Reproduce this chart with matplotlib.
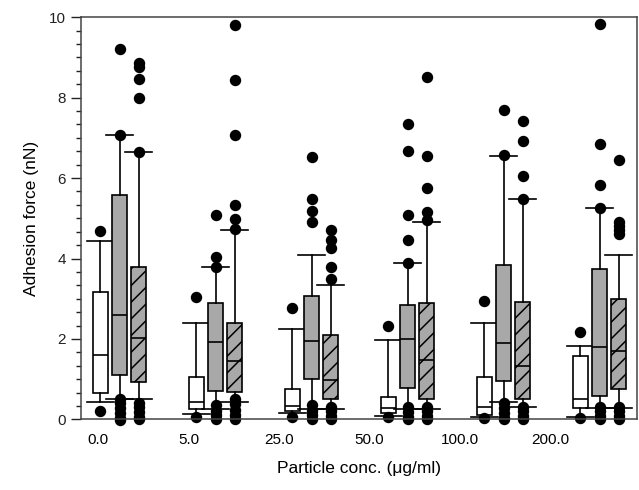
import matplotlib
matplotlib.use("Agg")
import matplotlib.pyplot as plt
from matplotlib.ticker import MultipleLocator

plt.rcParams['font.family'] = ['Liberation Sans', 'DejaVu Sans']
plt.rcParams['hatch.linewidth'] = 1.1

groups = ["0.0", "5.0", "25.0", "50.0", "100.0", "200.0"]

# White boxes
w_whislo = [0.43, 0.14, 0.15, 0.08, 0.06, 0.07]
w_q1 = [0.66, 0.26, 0.22, 0.15, 0.12, 0.29]
w_med = [1.61, 0.44, 0.33, 0.29, 0.31, 0.51]
w_q3 = [3.18, 1.06, 0.76, 0.55, 1.05, 1.57]
w_whishi = [4.44, 2.39, 2.25, 1.98, 2.39, 1.83]
w_fliers = [[4.69, 0.21], [3.05, 0.06], [2.76, 0.05], [2.33, 0.05], [2.95, 0.03], [2.17, 0.04]]

# Grey boxes
g_whislo = [0.51, 0.25, 0.25, 0.25, 0.44, 0.29]
g_q1 = [1.10, 0.70, 1.01, 0.78, 0.95, 0.59]
g_med = [2.60, 1.92, 1.94, 2.00, 1.90, 1.81]
g_q3 = [5.59, 2.90, 3.07, 2.85, 3.85, 3.73]
g_whishi = [7.08, 3.80, 4.08, 3.88, 6.56, 5.25]
g_fliers = [
    [9.20, 7.08, 0.52, 0.40, 0.28, 0.16, 0.04, -0.02],
    [5.07, 4.04, 3.80, 0.35, 0.22, 0.10, 0.0],
    [6.53, 5.47, 5.18, 4.91, 0.35, 0.22, 0.10, 0.0],
    [7.34, 6.67, 5.07, 4.47, 3.89, 0.30, 0.18, 0.06, 0.0],
    [7.70, 6.58, 0.40, 0.28, 0.16, 0.04, 0.0],
    [9.83, 6.85, 5.82, 5.26, 0.32, 0.20, 0.08, 0.0],
]

# Hatched boxes
h_whislo = [0.51, 0.43, 0.26, 0.26, 0.31, 0.29]
h_q1 = [0.92, 0.68, 0.50, 0.50, 0.50, 0.76]
h_med = [2.02, 1.46, 0.99, 1.47, 1.32, 1.69]
h_q3 = [3.78, 2.39, 2.10, 2.90, 2.93, 2.99]
h_whishi = [6.64, 4.72, 3.34, 4.91, 5.47, 4.08]
h_fliers = [
    [8.87, 8.75, 8.46, 7.98, 6.64, 0.42, 0.30, 0.18, 0.06, 0.0],
    [9.80, 8.44, 7.07, 5.32, 4.99, 4.74, 0.52, 0.38, 0.24, 0.12, 0.0],
    [4.70, 4.47, 4.25, 3.80, 3.48, 0.32, 0.20, 0.08, 0.0],
    [8.50, 6.54, 5.75, 5.16, 4.95, 0.32, 0.20, 0.08, 0.0],
    [7.43, 6.91, 6.06, 5.49, 0.32, 0.20, 0.08, 0.0],
    [6.44, 4.91, 4.80, 4.70, 4.60, 0.32, 0.20, 0.08, 0.0],
]

series = [
    (w_whislo, w_q1, w_med, w_q3, w_whishi, w_fliers, "white", None, 0.0),
    (g_whislo, g_q1, g_med, g_q3, g_whishi, g_fliers, "#a8a8a8", None, 0.203),
    (h_whislo, h_q1, h_med, h_q3, h_whishi, h_fliers, "#a8a8a8", "//", 0.401),
]

fig = plt.figure(figsize=(6.39, 4.90), dpi=100)
ax = fig.add_axes([0.127, 0.144, 0.870, 0.821])

for lo, q1, med, q3, hi, fl, color, hatch, off in series:
    stats = []
    for i in range(len(groups)):
        stats.append(dict(whislo=lo[i], q1=q1[i], med=med[i], q3=q3[i],
                          whishi=hi[i], fliers=fl[i]))
    pos = [i + off for i in range(len(groups))]
    res = ax.bxp(stats, positions=pos, widths=0.156, capwidths=0.28,
                 patch_artist=True, manage_ticks=False,
                 boxprops=dict(facecolor=color, edgecolor='black', linewidth=1.2, hatch=hatch),
                 whiskerprops=dict(color='black', linewidth=1.2),
                 capprops=dict(color='black', linewidth=1.2),
                 medianprops=dict(color='black', linewidth=1.2),
                 flierprops=dict(marker='o', markerfacecolor='black', markeredgecolor='black',
                                 markersize=7.2, linestyle='none'))
    for f in res['fliers']:
        f.set_clip_on(False)

label_pos = [i * 0.941 - 0.02 for i in range(len(groups))]
ax.set_xticks(label_pos, groups)
ax.tick_params(axis='x', length=0, labelsize=11, pad=10)
ax.set_xlim(-0.198, 5.594)
ax.set_ylim(0, 10)
ax.yaxis.set_major_locator(MultipleLocator(2))
ax.yaxis.set_minor_locator(MultipleLocator(1/3))
ax.tick_params(axis='y', which='major', length=7, width=1, labelsize=11, pad=4, colors='#222222')
ax.tick_params(axis='y', which='minor', length=3.5, width=1, colors='#222222')
for s in ax.spines.values():
    s.set_linewidth(1.1)
    s.set_color('#444444')

ax.set_ylabel("Adhesion force (nN)", fontsize=12.5, labelpad=7)
ax.set_xlabel("Particle conc. (μg/ml)", fontsize=12.5, labelpad=10)

fig.savefig("out.png", dpi=100)
